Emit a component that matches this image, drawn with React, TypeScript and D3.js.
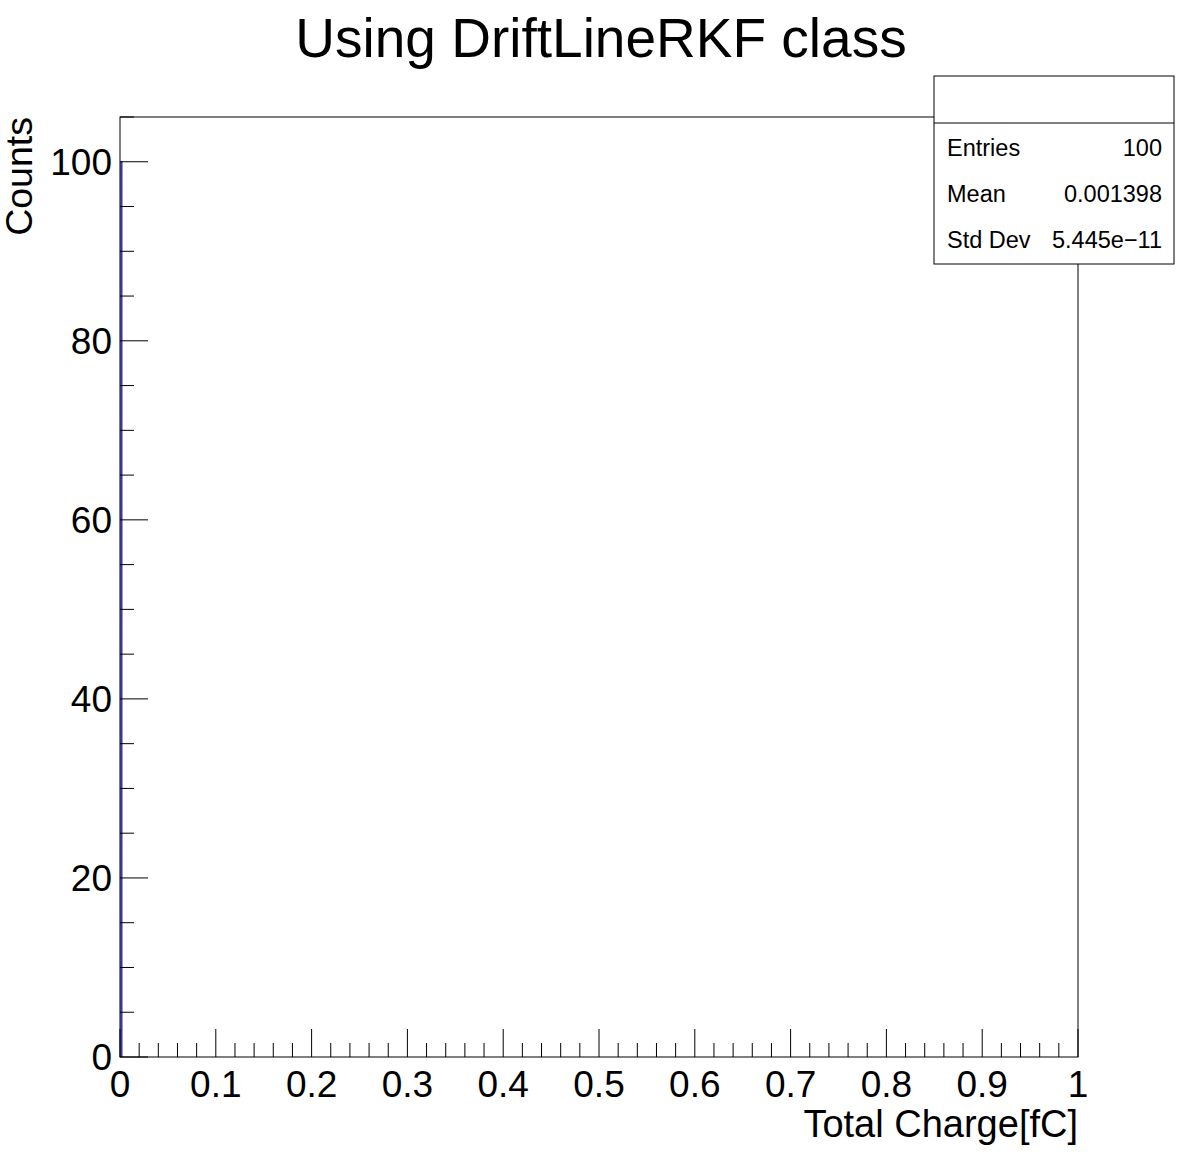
import React from "react";
import * as d3 from "d3";

const title = "Using DriftLineRKF class";
const xTitle = "Total Charge[fC]";
const yTitle = "Counts";
const xTicks = [0, 0.1, 0.2, 0.3, 0.4, 0.5, 0.6, 0.7, 0.8, 0.9, 1];
const yTicks = [0, 20, 40, 60, 80, 100];
const binLow = [0.001];
const binHigh = [0.002];
const binCounts = [100];
const statLabels = ["Entries", "Mean", "Std Dev"];
const statValues = ["100", "0.001398", "5.445e\u221211"];

const W = 1198, H = 1176;
const L = 120, R = 1078, T = 117, B = 1057;
const FONT = "'Liberation Sans', Arial, Helvetica, sans-serif";

export default function App() {
  const x = d3.scaleLinear().domain([0, 1]).range([L, R]);
  const y = d3.scaleLinear().domain([0, 105]).range([B, T]);
  const xMinor = d3.range(0, 1.0001, 0.02).map((v) => +v.toFixed(2));
  const yMinor = d3.range(0, 105.0001, 5);

  const pts: [number, number][] = [];
  binLow.forEach((lo, i) => {
    pts.push([x(lo), y(0)]);
    pts.push([x(lo), y(binCounts[i])]);
    pts.push([x(binHigh[i]), y(binCounts[i])]);
    pts.push([x(binHigh[i]), y(0)]);
  });
  const histPath = d3.line()(pts) || "";

  const bx = 934, by = 76, bw = 240, bh = 188;

  return (
    <svg width={W} height={H} style={{ position: "absolute", left: 0, top: 0, background: "#fff" }} fontFamily={FONT}>
      <rect x={0} y={0} width={W} height={H} fill="#fff" />
      <text x={601} y={57} fontSize={55} textAnchor="middle">{title}</text>
      <path d={histPath} fill="none" stroke="#000099" strokeWidth={1} />
      <rect x={L} y={T} width={R - L} height={B - T} fill="none" stroke="#000" strokeWidth={1} />
      {xMinor.map((v, i) => {
        const major = Math.abs(v * 10 - Math.round(v * 10)) < 1e-6;
        return <line key={"xm" + i} x1={x(v)} x2={x(v)} y1={B} y2={B - (major ? 28 : 14)} stroke="#000" strokeWidth={1} />;
      })}
      {yMinor.map((v, i) => {
        const major = v % 20 === 0;
        return <line key={"ym" + i} x1={L} x2={L + (major ? 28 : 14)} y1={y(v)} y2={y(v)} stroke="#000" strokeWidth={1} />;
      })}
      {xTicks.map((v, i) => (
        <text key={"xt" + i} x={x(v)} y={1097} fontSize={37} textAnchor="middle">{String(v)}</text>
      ))}
      {yTicks.map((v, i) => (
        <text key={"yt" + i} x={112} y={y(v) + 13} fontSize={37} textAnchor="end">{String(v)}</text>
      ))}
      <text x={R} y={1137} fontSize={38} textAnchor="end">{xTitle}</text>
      <text transform={`translate(32,${T}) rotate(-90)`} fontSize={37.5} textAnchor="end">{yTitle}</text>
      <rect x={bx} y={by} width={bw} height={bh} fill="#fff" stroke="#000" strokeWidth={1} />
      <line x1={bx} x2={bx + bw} y1={123} y2={123} stroke="#000" strokeWidth={1} />
      {statLabels.map((s, i) => (
        <g key={"st" + i}>
          <text x={947} y={156 + i * 46} fontSize={23.5}>{s}</text>
          <text x={1162} y={156 + i * 46} fontSize={23.5} textAnchor="end">{statValues[i]}</text>
        </g>
      ))}
    </svg>
  );
}
